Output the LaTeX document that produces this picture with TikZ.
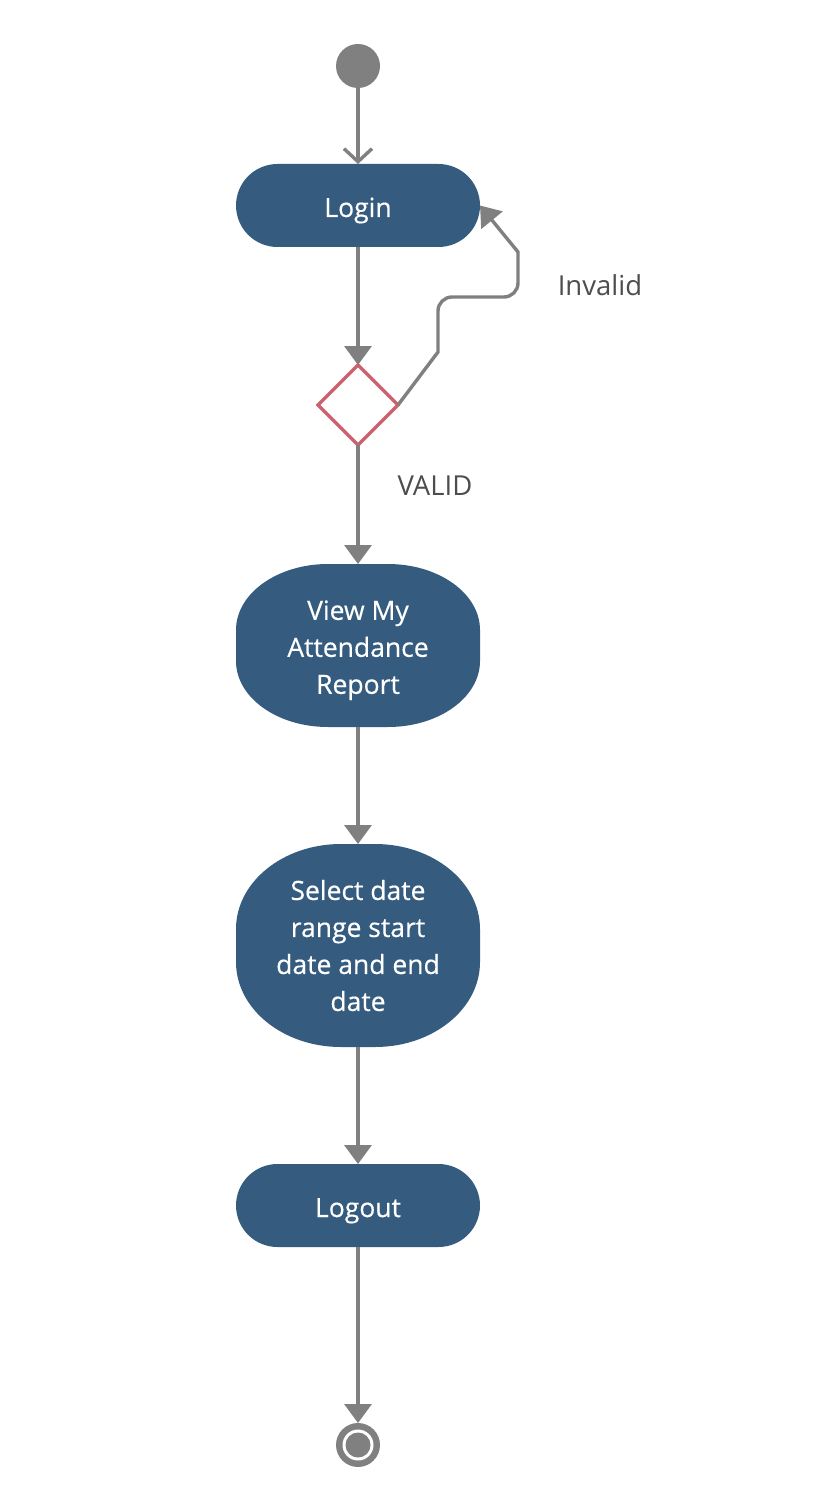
\documentclass[tikz,border=0pt]{standalone}
\usepackage{fontspec}
\setmainfont{Open Sans}
\newfontfamily\boxfont[FakeBold=0.4]{Open Sans}
\usetikzlibrary{arrows.meta,backgrounds,shapes.geometric}
\definecolor{boxblue}{RGB}{53,92,126}
\definecolor{conngray}{RGB}{128,128,128}
\definecolor{diared}{RGB}{204,98,112}
\definecolor{labelgray}{RGB}{77,77,77}
\newcommand\actshape[3]{%
  \fill[boxblue] ([xshift=#2pt]#1.north west) -- ([xshift=-#2pt]#1.north east)
    arc[start angle=90,end angle=0,x radius=#2pt,y radius=#3pt]
    -- ([yshift=#3pt]#1.south east)
    arc[start angle=0,end angle=-90,x radius=#2pt,y radius=#3pt]
    -- ([xshift=#2pt]#1.south west)
    arc[start angle=270,end angle=180,x radius=#2pt,y radius=#3pt]
    -- ([yshift=-#3pt]#1.north west)
    arc[start angle=180,end angle=90,x radius=#2pt,y radius=#3pt] -- cycle;}
\begin{document}
\begin{tikzpicture}[x=1pt,y=1pt,
  actbox/.style={rectangle, minimum width=244pt, inner sep=0pt, outer sep=0pt,
    text=white, align=center, font=\boxfont\fontsize{26.5}{37}\selectfont},
  onelinebox/.style={actbox, minimum height=83pt, text height=23pt, text depth=0pt},
  conn/.style={draw=conngray, line width=3.4pt},
  filltip/.style={-{Triangle[length=19pt,width=27pt]}},
  opentip/.style={-{Straight Barb[length=13pt,width=28pt]}},
  lbl/.style={text=labelgray, font=\fontsize{27.5}{30}\selectfont, inner sep=0pt}
]
\useasboundingbox (0,0) rectangle (818,-1506);
% nodes
\node[circle, fill=conngray, minimum size=44pt, inner sep=0pt, outer sep=0pt] (start) at (358,-66) {};
\node[onelinebox] (login) at (358,-205.5) {Login};
\node[diamond, draw=diared, line width=3.2pt, fill=white, minimum width=80pt,
      minimum height=80pt, inner sep=0pt, outer sep=0pt] (dec) at (358,-405) {};
\node[actbox, minimum height=163pt] (view) at (358,-645.5) {\rule{0pt}{29pt}View My\\Attendance\\Report};
\node[actbox, minimum height=203pt] (sel) at (358,-945.5) {Select date\\range start\\date and end\\date};
\node[onelinebox] (logout) at (358,-1205.5) {Logout};
\node[circle, fill=conngray, minimum size=44pt, inner sep=0pt, outer sep=0pt] (end) at (358,-1445) {};
\fill[white] (end.center) circle (15.5pt);
\fill[conngray] (end.center) circle (12.5pt);
% labels
\node[lbl] (inv) at (600,-285) {Invalid};
\node[lbl] (valid) at (435,-486) {VALID};
% shapes behind
\begin{scope}[on background layer]
  \fill[white] (0,0) rectangle (818,-1506);
  \actshape{login}{41.5}{41.5}
  \actshape{view}{92}{66}
  \actshape{sel}{105}{85}
  \actshape{logout}{41.5}{41.5}
\end{scope}
% connectors
\draw[conn, opentip] (start.south) -- (login.north);
\draw[conn, filltip] (login.south) -- (dec.north);
\draw[conn, filltip] (dec.south) -- (view.north);
\draw[conn, filltip] (view.south) -- (sel.north);
\draw[conn, filltip] (sel.south) -- (logout.north);
\draw[conn, filltip] (logout.south) -- (end.north);
\draw[conn, filltip] (dec.east) -- (438,-352) [rounded corners=14pt] -- (438,-297)
   -- (518,-297) [sharp corners] -- (518,-252) -- (login.east);
\end{tikzpicture}
\end{document}
